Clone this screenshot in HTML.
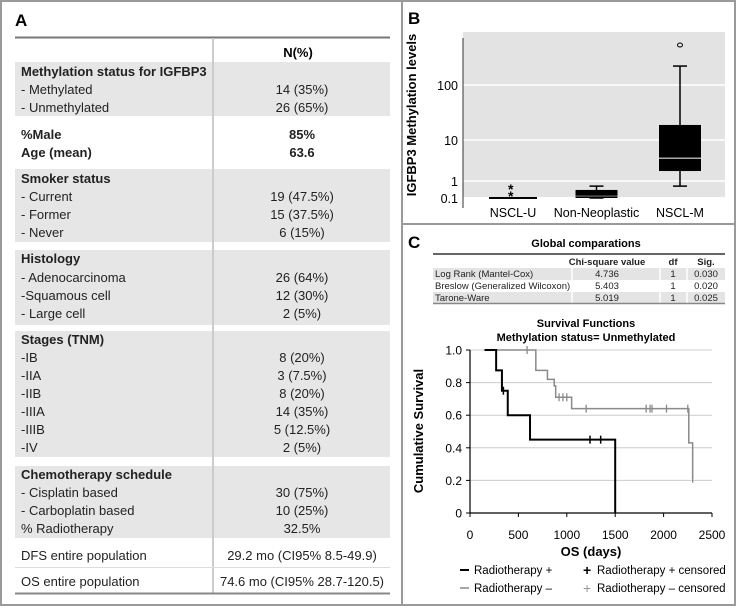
<!DOCTYPE html>
<html><head><meta charset="utf-8"><style>
body{margin:0;background:#fff;}
svg{display:block;font-family:"Liberation Sans",Arial,sans-serif;}
</style></head><body>
<svg id="fig" width="737" height="608" viewBox="0 0 737 608">
<!-- frame -->
<rect x="1" y="1" width="734" height="604" fill="none" stroke="#9a9a9a" stroke-width="2"/>
<line x1="402" y1="1" x2="402" y2="605" stroke="#9a9a9a" stroke-width="2"/>
<line x1="402" y1="224" x2="735" y2="224" stroke="#9a9a9a" stroke-width="2"/>

<!-- Panel A -->
<g id="panelA">
<text x="15" y="26" font-size="17" font-weight="bold">A</text>
<line x1="15" y1="37.5" x2="390" y2="37.5" stroke="#777" stroke-width="2"/>
<g id="blocks"></g>
<line x1="213" y1="38" x2="213" y2="594" stroke="#ccc" stroke-width="2"/>
<text x="298" y="57" font-size="13" font-weight="bold" text-anchor="middle">N(%)</text>
<g id="rows"></g>
<line x1="15" y1="567.5" x2="390" y2="567.5" stroke="#ddd" stroke-width="1"/>
<line x1="15" y1="593.5" x2="390" y2="593.5" stroke="#888" stroke-width="2"/>
</g>

<!-- Panel B -->
<g id="panelB">
<text x="408" y="24" font-size="17" font-weight="bold">B</text>
<rect x="463" y="32" width="262" height="165" fill="#e3e3e3"/>
<g id="bGrid"></g>
<line x1="463" y1="38" x2="463" y2="208" stroke="#333" stroke-width="1"/>
<text transform="translate(416,115) rotate(-90)" font-size="13" font-weight="bold" text-anchor="middle">IGFBP3 Methylation levels</text>
<g id="bMarks"></g>
</g>

<!-- Panel C -->
<g id="panelC">
<text x="408" y="248" font-size="17" font-weight="bold">C</text>
<text x="586" y="247" font-size="11" font-weight="bold" text-anchor="middle">Global comparations</text>
<line x1="433" y1="254" x2="725" y2="254" stroke="#666" stroke-width="2"/>
<rect x="433" y="268" width="292" height="12" fill="#e4e4e4"/>
<rect x="433" y="292" width="292" height="11" fill="#e4e4e4"/>
<g stroke="#fff" stroke-width="1.5"><line x1="572" y1="255" x2="572" y2="303"/><line x1="660" y1="255" x2="660" y2="303"/><line x1="687" y1="255" x2="687" y2="303"/></g>
<line x1="433" y1="303.5" x2="725" y2="303.5" stroke="#888" stroke-width="1.5"/>
<g font-size="9.5" fill="#222">
<text x="607" y="265" font-weight="bold" text-anchor="middle">Chi-square value</text>
<text x="673" y="265" font-weight="bold" text-anchor="middle">df</text>
<text x="706" y="265" font-weight="bold" text-anchor="middle">Sig.</text>
<text x="435" y="277">Log Rank (Mantel-Cox)</text>
<text x="607" y="277" text-anchor="middle">4.736</text><text x="673" y="277" text-anchor="middle">1</text><text x="706" y="277" text-anchor="middle">0.030</text>
<text x="435" y="289">Breslow (Generalized Wilcoxon)</text>
<text x="607" y="289" text-anchor="middle">5.403</text><text x="673" y="289" text-anchor="middle">1</text><text x="706" y="289" text-anchor="middle">0.020</text>
<text x="435" y="301">Tarone-Ware</text>
<text x="607" y="301" text-anchor="middle">5.019</text><text x="673" y="301" text-anchor="middle">1</text><text x="706" y="301" text-anchor="middle">0.025</text>
</g>
<text x="586" y="327" font-size="11" font-weight="bold" text-anchor="middle">Survival Functions</text>
<text x="586" y="341" font-size="11" font-weight="bold" text-anchor="middle">Methylation status= Unmethylated</text>
<g id="kmAxes"></g>
<g id="kmMarks"></g>
<text transform="translate(423,431) rotate(-90)" font-size="13" font-weight="bold" text-anchor="middle">Cumulative  Survival</text>
<text x="591" y="556" font-size="13" font-weight="bold" text-anchor="middle">OS (days)</text>
<g font-size="11.5">
<line x1="460" y1="570" x2="469" y2="570" stroke="#000" stroke-width="2"/>
<text x="474" y="574">Radiotherapy +</text>
<text x="583" y="575" font-size="14" font-weight="bold">+</text>
<text x="597" y="574">Radiotherapy + censored</text>
<line x1="460" y1="588" x2="469" y2="588" stroke="#888" stroke-width="1.5"/>
<text x="474" y="592">Radiotherapy –</text>
<text x="583" y="593" font-size="14" fill="#999">+</text>
<text x="597" y="592">Radiotherapy – censored</text>
</g>
</g>
</svg>
<script>
const NS="http://www.w3.org/2000/svg";
function mk(tag,attrs,parent,txt){const e=document.createElementNS(NS,tag);for(const k in attrs)e.setAttribute(k,attrs[k]);if(txt!==undefined)e.textContent=txt;parent.appendChild(e);return e;}

/* ---- Panel A table ---- */
const tableLabels=["Methylation status for IGFBP3","- Methylated","- Unmethylated","%Male","Age (mean)","Smoker status","- Current","- Former","- Never","Histology","- Adenocarcinoma","-Squamous cell","- Large cell","Stages (TNM)","-IB","-IIA","-IIB","-IIIA","-IIIB","-IV","Chemotherapy schedule","- Cisplatin based","- Carboplatin based","% Radiotherapy","DFS entire population","OS entire population"];
const tableValues=["","14 (35%)","26 (65%)","85%","63.6","","19 (47.5%)","15 (37.5%)","6 (15%)","","26 (64%)","12 (30%)","2 (5%)","","8 (20%)","3 (7.5%)","8 (20%)","14 (35%)","5 (12.5%)","2 (5%)","","30 (75%)","10 (25%)","32.5%","29.2 mo (CI95% 8.5-49.9)","74.6 mo (CI95% 28.7-120.5)"];
const boldRows=[0,3,4,5,9,13,20];
const rowY=[71,89,107,134,152,178,196,214,232,258,277,295,313,339,357,375,393,411,429,447,474,492,510,528,555,581];
const shadeBlocks=[[62,116],[169,242],[250,325],[331,457],[466,538]];
const bl=document.getElementById('blocks');
shadeBlocks.forEach(b=>{
 const r=mk('rect',{x:15,y:b[0],width:375,height:b[1]-b[0],fill:'#e6e6e6'},bl);
 
 
});
const rows=document.getElementById('rows');
tableLabels.forEach((l,i)=>{
 const b=boldRows.includes(i);
 const t=mk('text',{x:21,y:rowY[i]+5,'font-size':13,'font-weight':b?'bold':'normal',fill:'#222'},rows,l);
 
 
 if(tableValues[i]){
  const v=mk('text',{x:302,y:rowY[i]+5,'font-size':13,'font-weight':b?'bold':'normal','text-anchor':'middle',fill:'#222'},rows,tableValues[i]);
  
  
 }
});

/* ---- Panel B boxplot ---- */
const bCategories=["NSCL-U","Non-Neoplastic","NSCL-M"];
const bQ1=[0.1,0.1,1.75];
const bMedian=[0.1,0.13,3.6];
const bQ3=[0.1,0.26,18];
const bWhiskLo=[0.1,0.1,0.5];
const bWhiskHi=[0.1,0.5,221];
const bOutliersStar=[[0.39,0.15],[],[]];
const bOutliersCircle=[[],[],[533]];
const bTicks=[0.1,1,10,100];
const bTickLabels=["0.1","1","10","100"];
// axis: piecewise log scale (log10 value -> pixel)
const bLogKnots=[-1,0,1,2], bPixKnots=[198,181,140,85];
function yB(v){const l=Math.log10(v);let i=0;if(l>=bLogKnots[2])i=2;else if(l>=bLogKnots[1])i=1;
 return bPixKnots[i]+(l-bLogKnots[i])/(bLogKnots[i+1]-bLogKnots[i])*(bPixKnots[i+1]-bPixKnots[i]);}
function xB(i){return 513+i*83.5;}
const bg=document.getElementById('bGrid');
bTicks.forEach((t,i)=>{
 if(t>0.1){const g=mk('line',{x1:463,x2:725,y1:yB(t),y2:yB(t),stroke:'#fff','stroke-width':1.5},bg);
 }
 const tl=mk('text',{x:458,y:yB(t)+5,'font-size':12.5,'text-anchor':'end'},bg,bTickLabels[i]);
 
});
const bm=document.getElementById('bMarks');
bCategories.forEach((c,i)=>{
 const cx=xB(i), hw=i===0?24:21;
 const g=mk('g',{},bm);
 
 
 mk('line',{x1:cx,x2:cx,y1:yB(bWhiskHi[i]),y2:yB(bWhiskLo[i]),stroke:'#000','stroke-width':1.5},g);
 mk('line',{x1:cx-7,x2:cx+7,y1:yB(bWhiskHi[i]),y2:yB(bWhiskHi[i]),stroke:'#000','stroke-width':1.5},g);
 mk('line',{x1:cx-7,x2:cx+7,y1:yB(bWhiskLo[i]),y2:yB(bWhiskLo[i]),stroke:'#000','stroke-width':1.5},g);
 const top=yB(bQ3[i]),bot=yB(bQ1[i]);
 mk('rect',{x:cx-hw,y:top-1,width:2*hw,height:Math.max(2,bot-top+1),fill:'#000'},g);
 if(i>0)mk('line',{x1:cx-hw,x2:cx+hw,y1:yB(bMedian[i]),y2:yB(bMedian[i]),stroke:i===2?'#aaa':'#555','stroke-width':1.5},g);
 bOutliersStar[i].forEach(v=>{const s=mk('text',{x:cx-5,y:yB(v)+6,'font-size':14,'font-weight':'bold'},g,'*');
  });
 bOutliersCircle[i].forEach(v=>{const o=mk('ellipse',{cx:cx,cy:yB(v),rx:2.5,ry:2,fill:'none',stroke:'#000','stroke-width':1},g);
  });
 const xl=mk('text',{x:cx,y:217,'font-size':12.5,'text-anchor':'middle'},bm,c);
 
});

/* ---- Panel C Kaplan-Meier ---- */
const kmXTicks=[0,500,1000,1500,2000,2500];
const kmYTicks=[0,0.2,0.4,0.6,0.8,1.0];
const kmYTickLabels=["0","0.2","0.4","0.6","0.8","1.0"];
const plusStart=150;
const plusTimes=[270,330,390,620,1500];
const plusSurv=[0.875,0.75,0.6,0.45,0];
const plusCensT=[345,1240,1350];
const plusCensS=[0.75,0.45,0.45];
const minusStart=150;
const minusTimes=[680,800,870,885,1050,2260,2300];
const minusSurv=[0.875,0.82,0.78,0.71,0.64,0.43,0.21];
const minusCensT=[590,920,960,1000,1200,1820,1860,1880,2030,2250,2300];
const minusCensS=[1,0.71,0.71,0.71,0.64,0.64,0.64,0.64,0.64,0.64,0.21];
function xK(t){return 470+t/2500*242;}
function yK(s){return 513-s*163;}
const ka=document.getElementById('kmAxes');
kmYTicks.forEach((t,i)=>{
 if(t>0){const g=mk('line',{x1:470,x2:712,y1:yK(t),y2:yK(t),stroke:'#ccc','stroke-width':1},ka);
  }
 mk('line',{x1:466,x2:470,y1:yK(t),y2:yK(t),stroke:'#000'},ka);
 const l=mk('text',{x:462,y:yK(t)+4.5,'font-size':12,'text-anchor':'end'},ka,kmYTickLabels[i]);
 
});
kmXTicks.forEach(t=>{
 mk('line',{x1:xK(t),x2:xK(t),y1:513,y2:517,stroke:'#000'},ka);
 const l=mk('text',{x:xK(t),y:539,'font-size':12,'text-anchor':'middle'},ka,String(t));
 
});
const ax=mk('path',{d:`M470 ${yK(1)} V513 H712`,fill:'none',stroke:'#000','stroke-width':1.2},ka);

const km=document.getElementById('kmMarks');
function stepPath(t0,times,surv){let d=`M${xK(t0)} ${yK(1)}`;let s=1;
 times.forEach((t,i)=>{d+=` H${xK(t)} V${yK(surv[i])}`;s=surv[i];});return d;}
const pm=mk('path',{d:stepPath(minusStart,minusTimes,minusSurv),fill:'none',stroke:'#8a8a8a','stroke-width':1.5},km);

const pp=mk('path',{d:stepPath(plusStart,plusTimes,plusSurv),fill:'none',stroke:'#000','stroke-width':2},km);

minusCensT.forEach((t,i)=>{const c=mk('path',{d:`M${xK(t)} ${yK(minusCensS[i])-4}v8`,stroke:'#8a8a8a','stroke-width':1.3},km);
 });
plusCensT.forEach((t,i)=>{const c=mk('path',{d:`M${xK(t)} ${yK(plusCensS[i])-4}v8`,stroke:'#000','stroke-width':1.5},km);
 });
</script>
</body></html>
